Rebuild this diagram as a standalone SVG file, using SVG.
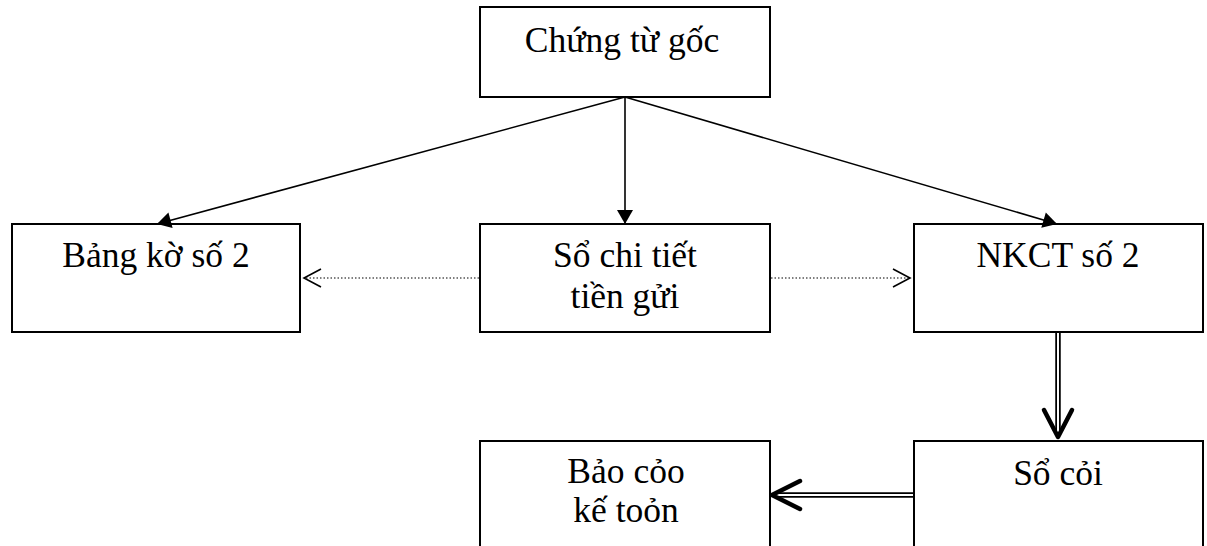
<svg xmlns="http://www.w3.org/2000/svg" width="1207" height="546" viewBox="0 0 1207 546">
<style>
.box{fill:#fff;stroke:#000;stroke-width:2}
.lbl{font-family:"Liberation Serif","Times New Roman",serif;font-size:35.5px;fill:#000;text-anchor:middle}
.solid{stroke:#000;stroke-width:1.6;fill:none}
.dot{stroke:#000;stroke-width:1.2;stroke-dasharray:1.5 2;fill:none}
.chev{stroke:#000;stroke-width:1.6;fill:none}
.dblo{stroke:#000;stroke-width:5.5;fill:none}
.dbli{stroke:#fff;stroke-width:2;fill:none}
.thick{stroke:#000;stroke-width:4.5;fill:none;stroke-linecap:round;stroke-linejoin:round}
</style>
<defs>
<marker id="tri" viewBox="0 0 14 16" refX="14" refY="8" markerWidth="14" markerHeight="16" markerUnits="userSpaceOnUse" orient="auto" overflow="visible">
<path d="M0,0 L14,8 L0,16 Z" fill="#000"/>
</marker>
</defs>
<g id="n-chungtu"><rect class="box" x="480" y="7" width="290" height="90"/><text class="lbl" x="622" y="52">Chứng từ gốc</text></g>
<g id="n-bangke"><rect class="box" x="12" y="224" width="288" height="108"/><text class="lbl" x="156" y="267">Bảng kờ số 2</text></g>
<g id="n-sochitiet"><rect class="box" x="480" y="224" width="290" height="108"/><text class="lbl" x="625" y="267">Sổ chi tiết</text><text class="lbl" x="625" y="308">tiền gửi</text></g>
<g id="n-nkct"><rect class="box" x="914" y="224" width="289" height="108"/><text class="lbl" x="1058" y="267">NKCT số 2</text></g>
<g id="n-socai"><rect class="box" x="914" y="441" width="289" height="120"/><text class="lbl" x="1058" y="485">Sổ cỏi</text></g>
<g id="n-baocao"><rect class="box" x="480" y="441" width="290" height="120"/><text class="lbl" x="626" y="483">Bảo cỏo</text><text class="lbl" x="626" y="522">kế toỏn</text></g>
<g id="connectors">
<line class="solid" x1="625" y1="97" x2="157" y2="224" marker-end="url(#tri)"/>
<line class="solid" x1="625" y1="97" x2="625" y2="224" marker-end="url(#tri)"/>
<line class="solid" x1="625" y1="97" x2="1057" y2="224" marker-end="url(#tri)"/>
<line class="dot" x1="479" y1="278" x2="305" y2="278"/>
<polyline class="chev" points="321,269 304,278 321,287"/>
<line class="dot" x1="771" y1="278" x2="909" y2="278"/>
<polyline class="chev" points="893,269 910,278 893,287"/>
<line class="dblo" x1="1058" y1="333" x2="1058" y2="432"/>
<line class="dbli" x1="1058" y1="333" x2="1058" y2="432"/>
<polyline class="thick" points="1044,410 1058,437 1072,410"/>
<line class="dblo" x1="913" y1="495" x2="777" y2="495"/>
<line class="dbli" x1="913" y1="495" x2="777" y2="495"/>
<polyline class="thick" points="800,481 772,495 800,509"/>
</g>
</svg>
